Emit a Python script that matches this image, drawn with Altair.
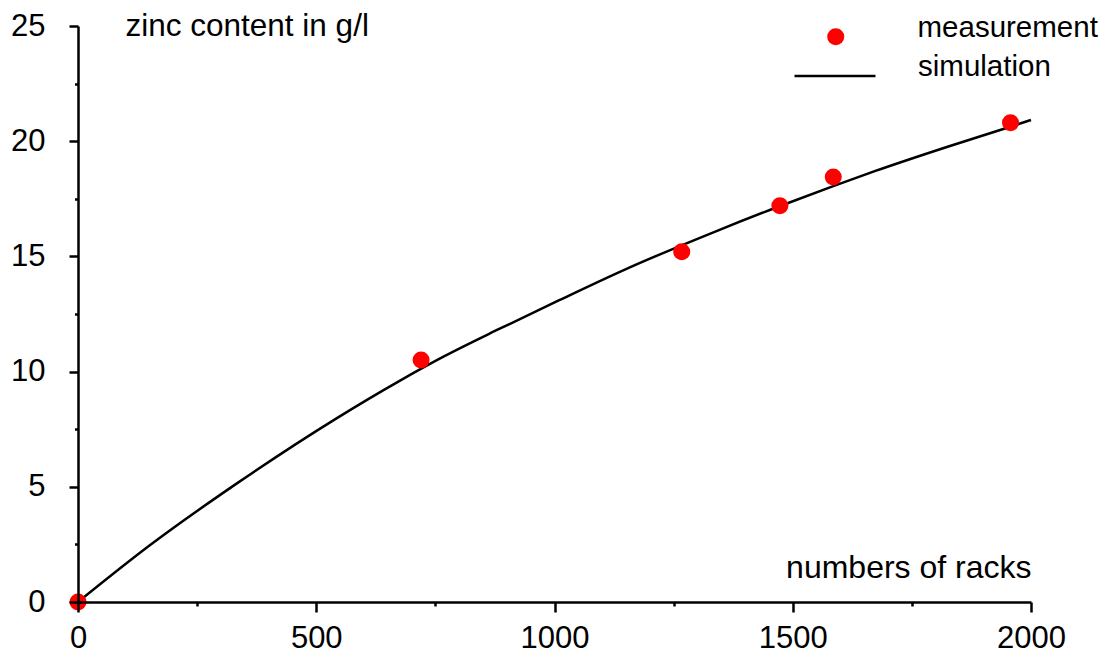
import altair as alt
import pandas as pd

# measured points
meas_racks = [0, 720, 1267, 1473, 1585, 1957]
meas_zinc = [0.0, 10.5, 15.2, 17.2, 18.45, 20.8]

# simulation curve
sim_racks = [0, 150, 335, 540, 675, 770, 885, 1010, 1150, 1340, 1475, 1585, 1675, 1825, 1960, 2000]
sim_zinc = [0.0, 2.45, 5.17, 7.94, 9.6, 10.68, 11.86, 13.1, 14.45, 16.1, 17.2, 18.05, 18.72, 19.76, 20.65, 20.92]

FONT = "Liberation Sans"

pts = pd.DataFrame({"racks": meas_racks, "zinc": meas_zinc, "series": "measurement"})
sim = pd.DataFrame({"racks": sim_racks, "zinc": sim_zinc, "series": "simulation"})

x_axis = alt.Axis(
    values=list(range(0, 2001, 250)),
    format="d",
    labelExpr="datum.value % 500 === 0 ? datum.label : ''",
    tickSize={"condition": {"test": "datum.value % 500 !== 0", "value": 4}, "value": 10},
    labelPadding=11,
    labelFontSize=31,
    labelFont=FONT,
    labelColor="black",
    labelFlush=False,
    labelOverlap=False,
    tickColor="black",
    tickWidth=2.5,
    domainColor="black",
    domainWidth=2.5,
    grid=False,
    title="numbers of racks",
    titleFont=FONT,
    titleFontSize=32,
    titleFontWeight="normal",
    titleColor="black",
    titleAlign="right",
    titleBaseline="alphabetic",
    titleX=953,
    titleY=-25,
    zindex=1,
)

y_axis = alt.Axis(
    values=[0, 2.5, 5, 7.5, 10, 12.5, 15, 17.5, 20, 22.5, 25],
    labelExpr="datum.value % 5 === 0 ? datum.label : ''",
    tickSize={"condition": {"test": "datum.value % 5 !== 0", "value": 3.5}, "value": 9},
    labelPadding=24,
    labelFontSize=31,
    labelFont=FONT,
    labelColor="black",
    labelFlush=False,
    labelOverlap=False,
    tickColor="black",
    tickWidth=2.5,
    domainColor="black",
    domainWidth=2.5,
    grid=False,
    title="zinc content in g/l",
    titleFont=FONT,
    titleFontSize=31.5,
    titleFontWeight="normal",
    titleColor="black",
    titleAngle=0,
    titleAlign="left",
    titleBaseline="alphabetic",
    titleX=47,
    titleY=9,
    zindex=1,
)

xs = alt.Scale(domain=[0, 2000], nice=False, zero=False)
ys = alt.Scale(domain=[0, 25], nice=False, zero=False)

line = alt.Chart(sim).mark_line(strokeWidth=2.5, interpolate="monotone").encode(
    x=alt.X("racks:Q", scale=xs, axis=x_axis),
    y=alt.Y("zinc:Q", scale=ys, axis=y_axis),
    stroke=alt.Stroke(
        "series:N",
        scale=alt.Scale(domain=["simulation"], range=["black"]),
        legend=alt.Legend(
            title=None, orient="none", legendX=715, legendY=8,
            symbolType="stroke", symbolSize=6561, symbolStrokeWidth=2.5,
            symbolStrokeColor="black",
            labelFont=FONT, labelFontSize=29.5, labelColor="black", labelLimit=400,
            labelOffset=41, labelBaseline="alphabetic", padding=0,
        ),
    ),
)

points = alt.Chart(pts).mark_circle(size=290, opacity=1).encode(
    x=alt.X("racks:Q", scale=xs),
    y=alt.Y("zinc:Q", scale=ys),
    fill=alt.Fill(
        "series:N",
        scale=alt.Scale(domain=["measurement"], range=["#ff0000"]),
        legend=alt.Legend(
            title=None, orient="none", legendX=743, legendY=-4,
            symbolType="circle", symbolSize=290, symbolStrokeWidth=0,
            symbolOpacity=1,
            labelFont=FONT, labelFontSize=29.5, labelColor="black", labelLimit=400,
            labelOffset=67, labelBaseline="alphabetic", padding=0,
        ),
    ),
)

chart = alt.layer(line, points).resolve_legend(fill="independent", stroke="independent").properties(
    width=953,
    height=576,
    autosize=alt.AutoSizeParams(type="none"),
    padding={"left": 78, "top": 26, "right": 71, "bottom": 53},
    background="white",
).configure_view(stroke=None)

chart.save("out.html", embed_options={"renderer": "svg", "actions": False})
